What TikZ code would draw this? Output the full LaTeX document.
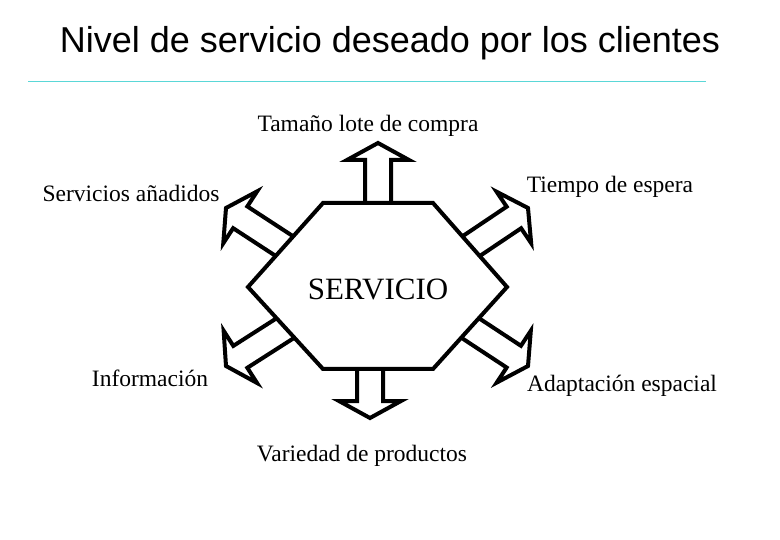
\documentclass[tikz,border=0pt]{standalone}
\usepackage{fontspec}
\setmainfont{Liberation Serif}
\newfontfamily\titlefont{Liberation Sans}
\usetikzlibrary{calc}
\definecolor{rulecol}{RGB}{90,215,215}
\tikzset{lbl/.style={font=\fontsize{23.5}{26}\selectfont, inner sep=0pt},
 blk/.style={line width=4pt, fill=white, line join=miter}}
\newcommand{\blockarrow}[2]{%
 \coordinate (H) at ($(#2)!17pt!(#1)$);
 \draw[blk] ($(#1)!13pt!90:(#2)$) -- ($(H)!13pt!90:(#2)$) -- ($(H)!31pt!90:(#2)$) -- (#2)
 -- ($(H)!31pt!-90:(#2)$) -- ($(H)!13pt!-90:(#2)$) -- ($(#1)!13pt!-90:(#2)$);}
\begin{document}
\begin{tikzpicture}[x=1pt,y=-1pt]
\useasboundingbox (0,0) rectangle (780,540);
\node[font=\titlefont\fontsize{36}{40}\selectfont] (title) at (390,43) {Nivel de servicio deseado por los clientes};
\draw[rulecol, line width=1pt] (28,82) -- (706,82);
\coordinate (bu) at (378,225); \coordinate (tu) at (378,143);
\coordinate (bd) at (370,350); \coordinate (td) at (370,418);
\coordinate (bur) at (458,255); \coordinate (tur) at (528,208);
\coordinate (bdr) at (458,320); \coordinate (tdr) at (528,366);
\coordinate (bul) at (298,255); \coordinate (tul) at (226,208);
\coordinate (bdl) at (298,320); \coordinate (tdl) at (226,366);
\blockarrow{bu}{tu}\blockarrow{bd}{td}\blockarrow{bur}{tur}
\blockarrow{bdr}{tdr}\blockarrow{bul}{tul}\blockarrow{bdl}{tdl}
\draw[line width=4pt, fill=white, line join=miter] (323,203) -- (433,203) -- (507,287) -- (433,369) -- (323,369) -- (248,287) -- cycle;
\node[font=\fontsize{31}{34}\selectfont] (serv) at (378,289) {SERVICIO};
\node[lbl] (l1) at (368,126) {Tamaño lote de compra};
\node[lbl] (l2) at (131,193) {Servicios añadidos};
\node[lbl] (l3) at (610,187) {Tiempo de espera};
\node[lbl] (l4) at (150,378) {Información};
\node[lbl] (l5) at (622,386) {Adaptación espacial};
\node[lbl] (l6) at (362,456) {Variedad de productos};
\end{tikzpicture}
\end{document}
